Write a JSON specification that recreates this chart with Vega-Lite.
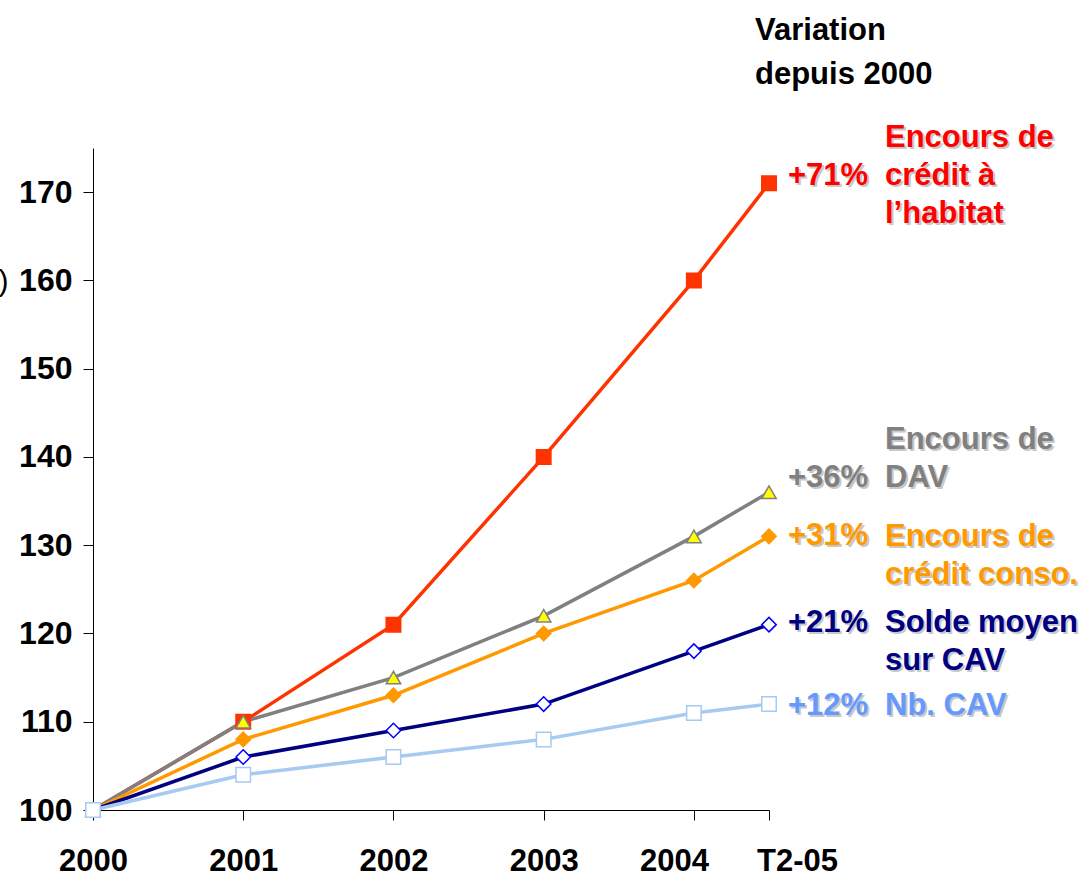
{
  "$schema": "https://vega.github.io/schema/vega-lite/v6.json",
  "autosize": {"type": "none"},
  "padding": {"left": 93, "top": 148, "right": 319, "bottom": 67},
  "width": 676,
  "height": 662,
  "background": "white",
  "config": {
    "view": {"stroke": null},
    "text": {"font": "Liberation Sans", "fontSize": 31, "fontWeight": "bold", "align": "left", "baseline": "middle", "lineHeight": 38, "lineBreak": "\n"}
  },
  "title": {
    "text": ["Variation", "depuis 2000"],
    "anchor": "start", "frame": "group", "dx": 662, "offset": 7,
    "baseline": "alphabetic", "lineHeight": 44,
    "font": "Liberation Sans", "fontSize": 31, "fontWeight": "bold", "color": "black"
  },
  "datasets": {
    "points": [
      {"serie": "habitat", "periode": "2000", "pos": 0, "indice": 100},
      {"serie": "habitat", "periode": "2001", "pos": 1, "indice": 110},
      {"serie": "habitat", "periode": "2002", "pos": 2, "indice": 121},
      {"serie": "habitat", "periode": "2003", "pos": 3, "indice": 140},
      {"serie": "habitat", "periode": "2004", "pos": 4, "indice": 160},
      {"serie": "habitat", "periode": "T2-05", "pos": 4.5, "indice": 171},
      {"serie": "dav", "periode": "2000", "pos": 0, "indice": 100},
      {"serie": "dav", "periode": "2001", "pos": 1, "indice": 110},
      {"serie": "dav", "periode": "2002", "pos": 2, "indice": 115},
      {"serie": "dav", "periode": "2003", "pos": 3, "indice": 122},
      {"serie": "dav", "periode": "2004", "pos": 4, "indice": 131},
      {"serie": "dav", "periode": "T2-05", "pos": 4.5, "indice": 136},
      {"serie": "conso", "periode": "2000", "pos": 0, "indice": 100},
      {"serie": "conso", "periode": "2001", "pos": 1, "indice": 108},
      {"serie": "conso", "periode": "2002", "pos": 2, "indice": 113},
      {"serie": "conso", "periode": "2003", "pos": 3, "indice": 120},
      {"serie": "conso", "periode": "2004", "pos": 4, "indice": 126},
      {"serie": "conso", "periode": "T2-05", "pos": 4.5, "indice": 131},
      {"serie": "solde", "periode": "2000", "pos": 0, "indice": 100},
      {"serie": "solde", "periode": "2001", "pos": 1, "indice": 106},
      {"serie": "solde", "periode": "2002", "pos": 2, "indice": 109},
      {"serie": "solde", "periode": "2003", "pos": 3, "indice": 112},
      {"serie": "solde", "periode": "2004", "pos": 4, "indice": 118},
      {"serie": "solde", "periode": "T2-05", "pos": 4.5, "indice": 121},
      {"serie": "nb", "periode": "2000", "pos": 0, "indice": 100},
      {"serie": "nb", "periode": "2001", "pos": 1, "indice": 104},
      {"serie": "nb", "periode": "2002", "pos": 2, "indice": 106},
      {"serie": "nb", "periode": "2003", "pos": 3, "indice": 108},
      {"serie": "nb", "periode": "2004", "pos": 4, "indice": 111},
      {"serie": "nb", "periode": "T2-05", "pos": 4.5, "indice": 112}
    ],
    "libelles": [
      {"serie": "habitat", "variation": "+71%", "libelle": "Encours de\ncrédit à\nl’habitat"},
      {"serie": "dav", "variation": "+36%", "libelle": "Encours de\nDAV"},
      {"serie": "conso", "variation": "+31%", "libelle": "Encours de\ncrédit conso."},
      {"serie": "solde", "variation": "+21%", "libelle": "Solde moyen\nsur CAV"},
      {"serie": "nb", "variation": "+12%", "libelle": "Nb. CAV"}
    ]
  },
  "data": {"name": "points"},
  "transform": [
    {"lookup": "serie", "from": {"data": {"name": "libelles"}, "key": "serie", "fields": ["variation", "libelle"]}}
  ],
  "encoding": {
    "x": {
      "field": "pos", "type": "quantitative",
      "scale": {"domain": [0, 4.5], "nice": false, "zero": false},
      "axis": {
        "values": [0, 1, 2, 3, 4, 4.5],
        "labelExpr": "datum.value == 0 ? '2000' : datum.value == 1 ? '2001' : datum.value == 2 ? '2002' : datum.value == 3 ? '2003' : datum.value == 4 ? '2004' : 'T2-05'",
        "title": null, "grid": false,
        "tickSize": 10, "tickColor": "black", "domainColor": "black",
        "labelFont": "Liberation Sans", "labelFontSize": 31, "labelFontWeight": "bold", "labelColor": "black",
        "labelPadding": 26, "labelFlush": false, "labelOverlap": false,
        "labelOffset": {"condition": [{"test": "datum.value == 4", "value": -20}, {"test": "datum.value == 4.5", "value": 28}], "value": 0}
      }
    },
    "y": {
      "field": "indice", "type": "quantitative",
      "scale": {"domain": [100, 175], "nice": false, "zero": false},
      "axis": {
        "values": [100, 110, 120, 130, 140, 150, 160, 170],
        "title": "(base 100 en 2000)", "titleAngle": 0, "titleAlign": "right", "titleBaseline": "middle",
        "titleX": -85, "titleY": 133, "titleFont": "Liberation Sans", "titleFontSize": 30, "titleFontWeight": "normal", "titleColor": "black",
        "grid": false,
        "tickSize": 10, "tickColor": "black", "domainColor": "black",
        "labelFont": "Liberation Sans", "labelFontSize": 32, "labelFontWeight": "bold", "labelColor": "black",
        "labelPadding": 11
      }
    }
  },
  "layer": [
    {
      "mark": {"type": "line", "strokeWidth": 3.5},
      "encoding": {
        "color": {"field": "serie", "type": "nominal", "legend": null,
          "scale": {"domain": ["habitat", "dav", "conso", "solde", "nb"], "range": ["#FF3300", "#808080", "#FF9900", "#000080", "#A6CAF0"]}}
      }
    },
    {
      "mark": {"type": "point", "filled": true, "size": 210, "strokeWidth": 1.5, "opacity": 1},
      "encoding": {
        "shape": {"field": "serie", "type": "nominal", "legend": null,
          "scale": {"domain": ["habitat", "dav", "conso", "solde", "nb"], "range": ["square", "triangle-up", "diamond", "diamond", "square"]}},
        "fill": {"field": "serie", "type": "nominal", "legend": null,
          "scale": {"domain": ["habitat", "dav", "conso", "solde", "nb"], "range": ["#FF3300", "#FFFF00", "#FF9900", "#FFFFFF", "#FFFFFF"]}},
        "stroke": {"field": "serie", "type": "nominal", "legend": null,
          "scale": {"domain": ["habitat", "dav", "conso", "solde", "nb"], "range": ["#FF3300", "#808080", "#FF9900", "#0000FF", "#A6CAF0"]}}
      }
    },
    {"transform": [{"filter": "datum.pos == 4.5 && datum.serie == 'habitat'"}], "mark": {"type": "text", "dx": 21, "dy": -5, "color": "#C8C8C8"}, "encoding": {"text": {"field": "variation"}}},
    {"transform": [{"filter": "datum.pos == 4.5 && datum.serie == 'habitat'"}], "mark": {"type": "text", "dx": 19, "dy": -7, "color": "#FF0000"}, "encoding": {"text": {"field": "variation"}}},
    {"transform": [{"filter": "datum.pos == 4.5 && datum.serie == 'habitat'"}], "mark": {"type": "text", "dx": 118, "dy": -43, "color": "#C8C8C8"}, "encoding": {"text": {"field": "libelle"}}},
    {"transform": [{"filter": "datum.pos == 4.5 && datum.serie == 'habitat'"}], "mark": {"type": "text", "dx": 116, "dy": -45, "color": "#FF0000"}, "encoding": {"text": {"field": "libelle"}}},

    {"transform": [{"filter": "datum.pos == 4.5 && datum.serie == 'dav'"}], "mark": {"type": "text", "dx": 21, "dy": -12, "color": "#C8C8C8"}, "encoding": {"text": {"field": "variation"}}},
    {"transform": [{"filter": "datum.pos == 4.5 && datum.serie == 'dav'"}], "mark": {"type": "text", "dx": 19, "dy": -14, "color": "#808080"}, "encoding": {"text": {"field": "variation"}}},
    {"transform": [{"filter": "datum.pos == 4.5 && datum.serie == 'dav'"}], "mark": {"type": "text", "dx": 118, "dy": -50, "color": "#C8C8C8"}, "encoding": {"text": {"field": "libelle"}}},
    {"transform": [{"filter": "datum.pos == 4.5 && datum.serie == 'dav'"}], "mark": {"type": "text", "dx": 116, "dy": -52, "color": "#808080"}, "encoding": {"text": {"field": "libelle"}}},

    {"transform": [{"filter": "datum.pos == 4.5 && datum.serie == 'conso'"}], "mark": {"type": "text", "dx": 21, "dy": 2, "color": "#C8C8C8"}, "encoding": {"text": {"field": "variation"}}},
    {"transform": [{"filter": "datum.pos == 4.5 && datum.serie == 'conso'"}], "mark": {"type": "text", "dx": 19, "dy": 0, "color": "#FF9900"}, "encoding": {"text": {"field": "variation"}}},
    {"transform": [{"filter": "datum.pos == 4.5 && datum.serie == 'conso'"}], "mark": {"type": "text", "dx": 118, "dy": 3, "color": "#C8C8C8"}, "encoding": {"text": {"field": "libelle"}}},
    {"transform": [{"filter": "datum.pos == 4.5 && datum.serie == 'conso'"}], "mark": {"type": "text", "dx": 116, "dy": 1, "color": "#FF9900"}, "encoding": {"text": {"field": "libelle"}}},

    {"transform": [{"filter": "datum.pos == 4.5 && datum.serie == 'solde'"}], "mark": {"type": "text", "dx": 21, "dy": 0, "color": "#C8C8C8"}, "encoding": {"text": {"field": "variation"}}},
    {"transform": [{"filter": "datum.pos == 4.5 && datum.serie == 'solde'"}], "mark": {"type": "text", "dx": 19, "dy": -2, "color": "#000080"}, "encoding": {"text": {"field": "variation"}}},
    {"transform": [{"filter": "datum.pos == 4.5 && datum.serie == 'solde'"}], "mark": {"type": "text", "dx": 118, "dy": 0, "color": "#C8C8C8"}, "encoding": {"text": {"field": "libelle"}}},
    {"transform": [{"filter": "datum.pos == 4.5 && datum.serie == 'solde'"}], "mark": {"type": "text", "dx": 116, "dy": -2, "color": "#000080"}, "encoding": {"text": {"field": "libelle"}}},

    {"transform": [{"filter": "datum.pos == 4.5 && datum.serie == 'nb'"}], "mark": {"type": "text", "dx": 21, "dy": 4, "color": "#C8C8C8"}, "encoding": {"text": {"field": "variation"}}},
    {"transform": [{"filter": "datum.pos == 4.5 && datum.serie == 'nb'"}], "mark": {"type": "text", "dx": 19, "dy": 2, "color": "#6699FF"}, "encoding": {"text": {"field": "variation"}}},
    {"transform": [{"filter": "datum.pos == 4.5 && datum.serie == 'nb'"}], "mark": {"type": "text", "dx": 118, "dy": 4, "color": "#C8C8C8"}, "encoding": {"text": {"field": "libelle"}}},
    {"transform": [{"filter": "datum.pos == 4.5 && datum.serie == 'nb'"}], "mark": {"type": "text", "dx": 116, "dy": 2, "color": "#6699FF"}, "encoding": {"text": {"field": "libelle"}}}
  ]
}
